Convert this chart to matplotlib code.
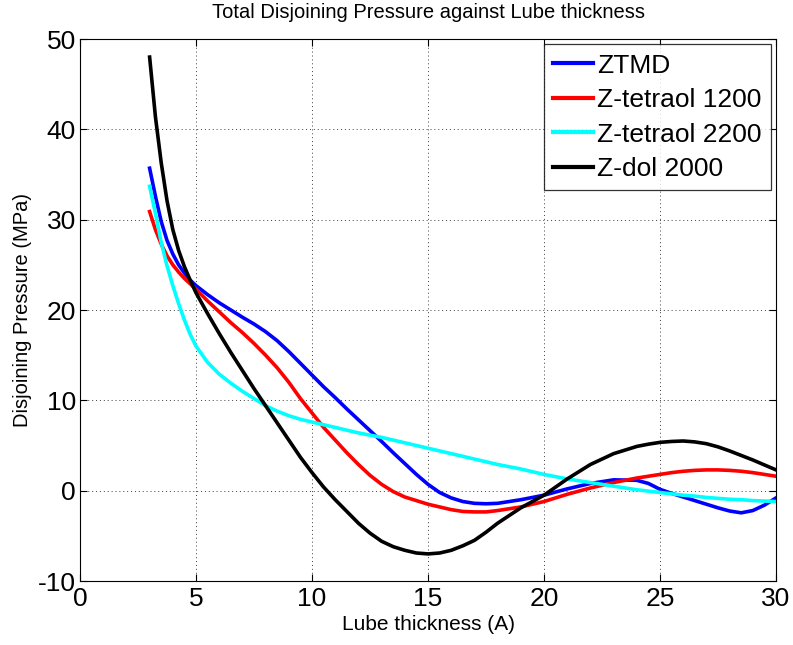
import matplotlib as mpl
mpl.use("Agg")
import matplotlib.pyplot as plt

mpl.rcParams.update({"font.family": ["Liberation Sans", "DejaVu Sans"],
                     "axes.unicode_minus": False})

# lube thickness (A)
thick = [3, 3.25, 3.5, 3.75, 4, 4.25, 4.5, 4.75, 5, 5.5, 6, 6.5, 7, 7.5, 8, 8.5, 9,
         9.5, 10, 10.5, 11, 11.5, 12, 12.5, 13, 13.5, 14, 14.5, 15, 15.5, 16, 16.5,
         17, 17.5, 18, 19, 20, 21, 22, 23, 24, 24.5, 25, 25.5, 26, 26.5, 27, 27.5,
         28, 28.5, 29, 29.5, 30]

ztmd = [35.7, 32.6, 29.8, 27.7, 26.2, 25.0, 24.1, 23.3, 22.7, 21.7, 20.8, 20.0, 19.2,
        18.45, 17.6, 16.6, 15.4, 14.1, 12.8, 11.5, 10.3, 9.05, 7.85, 6.65, 5.45, 4.2, 3.0,
        1.8, 0.7, -0.2, -0.8, -1.2, -1.4, -1.45, -1.4, -1.0, -0.5, 0.2, 0.8, 1.2, 1.15,
        0.8, 0.15, -0.3, -0.7, -1.1, -1.5, -1.9, -2.25, -2.45, -2.2, -1.6, -0.8]

tetraol_1200 = [30.9, 28.9, 27.3, 26.0, 25.0, 24.2, 23.5, 22.9, 22.3, 21.0, 19.8, 18.6,
                17.5, 16.3, 15.0, 13.6, 12.0, 10.2, 8.6, 7.0, 5.6, 4.2, 2.9, 1.7, 0.7,
                -0.1, -0.7, -1.1, -1.5, -1.8, -2.1, -2.3, -2.35, -2.35, -2.2, -1.8,
                -1.2, -0.4, 0.3, 0.9, 1.4, 1.6, 1.8, 2.0, 2.15, 2.25, 2.3, 2.3, 2.25,
                2.15, 2.0, 1.8, 1.6]

tetraol_2200 = [33.7, 30.7, 27.5, 24.9, 22.7, 20.7, 18.9, 17.3, 16.0, 14.2, 12.9, 11.9,
                11.0, 10.2, 9.4, 8.8, 8.3, 7.9, 7.6, 7.3, 7.0, 6.7, 6.4, 6.15, 5.9, 5.6,
                5.3, 5.0, 4.7, 4.4, 4.1, 3.8, 3.5, 3.2, 2.9, 2.4, 1.8, 1.3, 0.9, 0.5,
                0.1, -0.05, -0.2, -0.35, -0.5, -0.6, -0.75, -0.85, -0.95, -1.0, -1.1,
                -1.15, -1.2]

zdol_2000 = [48.0, 41.4, 36.3, 32.1, 28.9, 26.6, 24.8, 23.3, 21.9, 19.6, 17.4, 15.3,
             13.3, 11.3, 9.4, 7.5, 5.6, 3.7, 2.0, 0.4, -1.0, -2.3, -3.6, -4.7, -5.6,
             -6.2, -6.6, -6.9, -7.0, -6.9, -6.6, -6.1, -5.5, -4.6, -3.6, -1.9, -0.5,
             1.3, 2.9, 4.1, 4.9, 5.15, 5.35, 5.45, 5.5, 5.4, 5.2, 4.85, 4.4, 3.9, 3.4,
             2.85, 2.3]

series = [("ZTMD", ztmd, "#0000ff"),
          ("Z-tetraol 1200", tetraol_1200, "#ff0000"),
          ("Z-tetraol 2200", tetraol_2200, "#00ffff"),
          ("Z-dol 2000", zdol_2000, "#000000")]

fig = plt.figure(figsize=(7.93, 6.45), dpi=100)
ax = fig.add_axes([0.1009, 0.0992, 0.8777, 0.8403])

for name, vals, col in series:
    ax.plot(thick, vals, color=col, lw=2.6, label=name)

ax.set_xlim(0, 30)
ax.set_ylim(-10, 50)
ax.set_xticks(range(0, 31, 5))
ax.set_yticks(range(-10, 51, 10))
ax.tick_params(direction="in", top=True, right=True, labelsize=19, length=5, width=0.8)
ax.tick_params(axis="x", pad=4)
ax.tick_params(axis="y", pad=3)
ax.grid(True, color="#404040", ls=(0, (1, 3)), lw=0.7)
for s in ax.spines.values():
    s.set_linewidth(0.8)

ax.set_title("Total Disjoining Pressure against Lube thickness", fontsize=14.5, pad=15)
ax.set_xlabel("Lube thickness (A)", fontsize=15, labelpad=3)
ax.set_ylabel("Disjoining Pressure (MPa)", fontsize=14.5, labelpad=4)

leg = ax.legend(loc="upper right", fontsize=19, frameon=True, fancybox=False,
                handlelength=1.5, handletextpad=0.15, borderpad=0.35, labelspacing=0.4,
                borderaxespad=0.2)
leg.get_frame().set_edgecolor("black")
leg.get_frame().set_linewidth(0.9)
for h in leg.get_lines():
    h.set_linewidth(3)

fig.savefig("out.png", dpi=100)
